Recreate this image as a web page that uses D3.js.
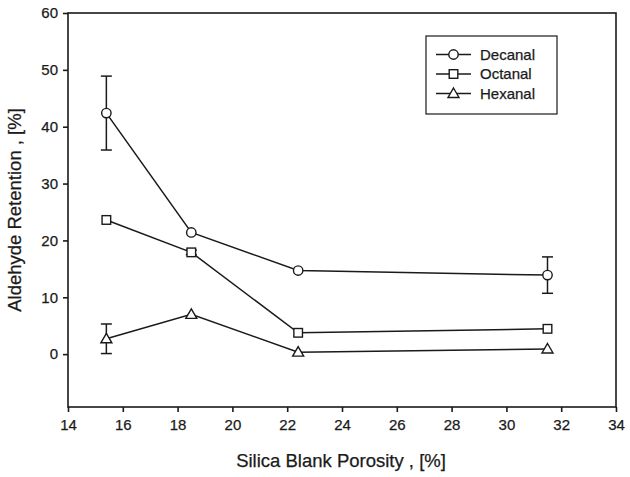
<!DOCTYPE html>
<html>
<head>
<meta charset="utf-8">
<script src="https://cdn.jsdelivr.net/npm/d3@7"></script>
<style>
  body { margin: 0; background: #fff; }
  text { font-family: "Liberation Sans", Arial, sans-serif; fill: #1a1a1a; stroke: #1a1a1a; stroke-width: 0.25px; }
</style>
</head>
<body>
<div id="chart"></div>
<script>
var porosity = [15.4, 18.5, 22.4, 31.5]

var decanal = [42.4, 21.4, 14.7, 13.9]
var decanalErr = [6.5, 0, 0, 3.2]
var octanal = [23.6, 17.9, 3.75, 4.45]
var octanalErr = [0, 0.4, 0, 0]
var hexanal = [2.7, 7.0, 0.35, 0.9]
var hexanalErr = [2.6, 0, 0, 0]

var seriesNames = ['Decanal', 'Octanal', 'Hexanal']
var xTicks = [14, 16, 18, 20, 22, 24, 26, 28, 30, 32, 34]
var yTicks = [0, 10, 20, 30, 40, 50, 60]

var w = 630, h = 477
var plotL = 68, plotR = 616, plotT = 13, plotB = 407

var svg = d3.select('#chart').append('svg')
  .attr('width', w)
  .attr('height', h)

var x = d3.scaleLinear().domain([14, 34]).range([plotL, plotR])
var y = d3.scaleLinear().domain([-9.3, 60]).range([plotB, plotT])

// frame
svg.append('rect')
  .attr('x', plotL).attr('y', plotT)
  .attr('width', plotR - plotL).attr('height', plotB - plotT)
  .attr('fill', 'none').attr('stroke', '#1a1a1a').attr('stroke-width', 1.6)

var xAxis = svg.append('g')
  .attr('transform', 'translate(0,' + plotB + ')')
  .call(d3.axisBottom(x).tickValues(xTicks).tickSize(5).tickPadding(7))
var yAxis = svg.append('g')
  .attr('transform', 'translate(' + plotL + ',0)')
  .call(d3.axisLeft(y).tickValues(yTicks).tickSize(5).tickPadding(5))

;[xAxis, yAxis].forEach(function(g) {
  g.select('.domain').remove()
  g.selectAll('line').attr('stroke', '#1a1a1a').attr('stroke-width', 1.6)
  g.selectAll('text').style('font-size', '15px').attr('fill', '#1a1a1a')
})

svg.append('text')
  .attr('x', 341).attr('y', 467)
  .attr('text-anchor', 'middle')
  .style('font-size', '18.5px')
  .text('Silica Blank Porosity , [%]')

svg.append('text')
  .attr('transform', 'translate(21,210) rotate(-90)')
  .attr('text-anchor', 'middle')
  .style('font-size', '18.5px')
  .text('Aldehyde Retention , [%]')

var line = d3.line()
  .x(function(d) { return x(d[0]) })
  .y(function(d) { return y(d[1]) })

function drawMarker(g, type, cx, cy) {
  if (type === 'circle') {
    g.append('circle').attr('cx', cx).attr('cy', cy).attr('r', 4.7)
      .attr('fill', '#fff').attr('stroke', '#1a1a1a').attr('stroke-width', 1.4)
  } else if (type === 'square') {
    g.append('rect').attr('x', cx - 4.3).attr('y', cy - 4.3)
      .attr('width', 8.6).attr('height', 8.6)
      .attr('fill', '#fff').attr('stroke', '#1a1a1a').attr('stroke-width', 1.4)
  } else {
    g.append('path')
      .attr('d', 'M' + cx + ',' + (cy - 5.5) + 'L' + (cx + 5.5) + ',' + (cy + 4) + 'L' + (cx - 5.5) + ',' + (cy + 4) + 'Z')
      .attr('fill', '#fff').attr('stroke', '#1a1a1a').attr('stroke-width', 1.4)
  }
}

var series = [
  { vals: decanal, err: decanalErr, marker: 'circle' },
  { vals: octanal, err: octanalErr, marker: 'square' },
  { vals: hexanal, err: hexanalErr, marker: 'triangle' }
]

series.forEach(function(s) {
  var g = svg.append('g')
  var pts = porosity.map(function(p, i) { return [p, s.vals[i]] })
  g.append('path').attr('d', line(pts))
    .attr('fill', 'none').attr('stroke', '#1a1a1a').attr('stroke-width', 1.5)
  pts.forEach(function(d, i) {
    var e = s.err[i]
    if (e > 0) {
      var cx = x(d[0]), y1 = y(d[1] + e), y2 = y(d[1] - e)
      g.append('line').attr('x1', cx).attr('x2', cx).attr('y1', y1).attr('y2', y2)
        .attr('stroke', '#1a1a1a').attr('stroke-width', 1.5)
      ;[y1, y2].forEach(function(yy) {
        g.append('line').attr('x1', cx - 5.5).attr('x2', cx + 5.5).attr('y1', yy).attr('y2', yy)
          .attr('stroke', '#1a1a1a').attr('stroke-width', 1.5)
      })
    }
  })
  pts.forEach(function(d) { drawMarker(g, s.marker, x(d[0]), y(d[1])) })
})

// legend
var leg = svg.append('g')
leg.append('rect')
  .attr('x', 426).attr('y', 36).attr('width', 131).attr('height', 78)
  .attr('fill', '#fff').attr('stroke', '#1a1a1a').attr('stroke-width', 1.2)
var markers = ['circle', 'square', 'triangle']
seriesNames.forEach(function(name, i) {
  var ly = 54.5 + i * 19.5
  leg.append('line').attr('x1', 436).attr('x2', 471).attr('y1', ly).attr('y2', ly)
    .attr('stroke', '#1a1a1a').attr('stroke-width', 1.5)
  drawMarker(leg, markers[i], 453.5, ly)
  leg.append('text').attr('x', 480).attr('y', ly + 5)
    .style('font-size', '15px')
    .text(name)
})
</script>
</body>
</html>
